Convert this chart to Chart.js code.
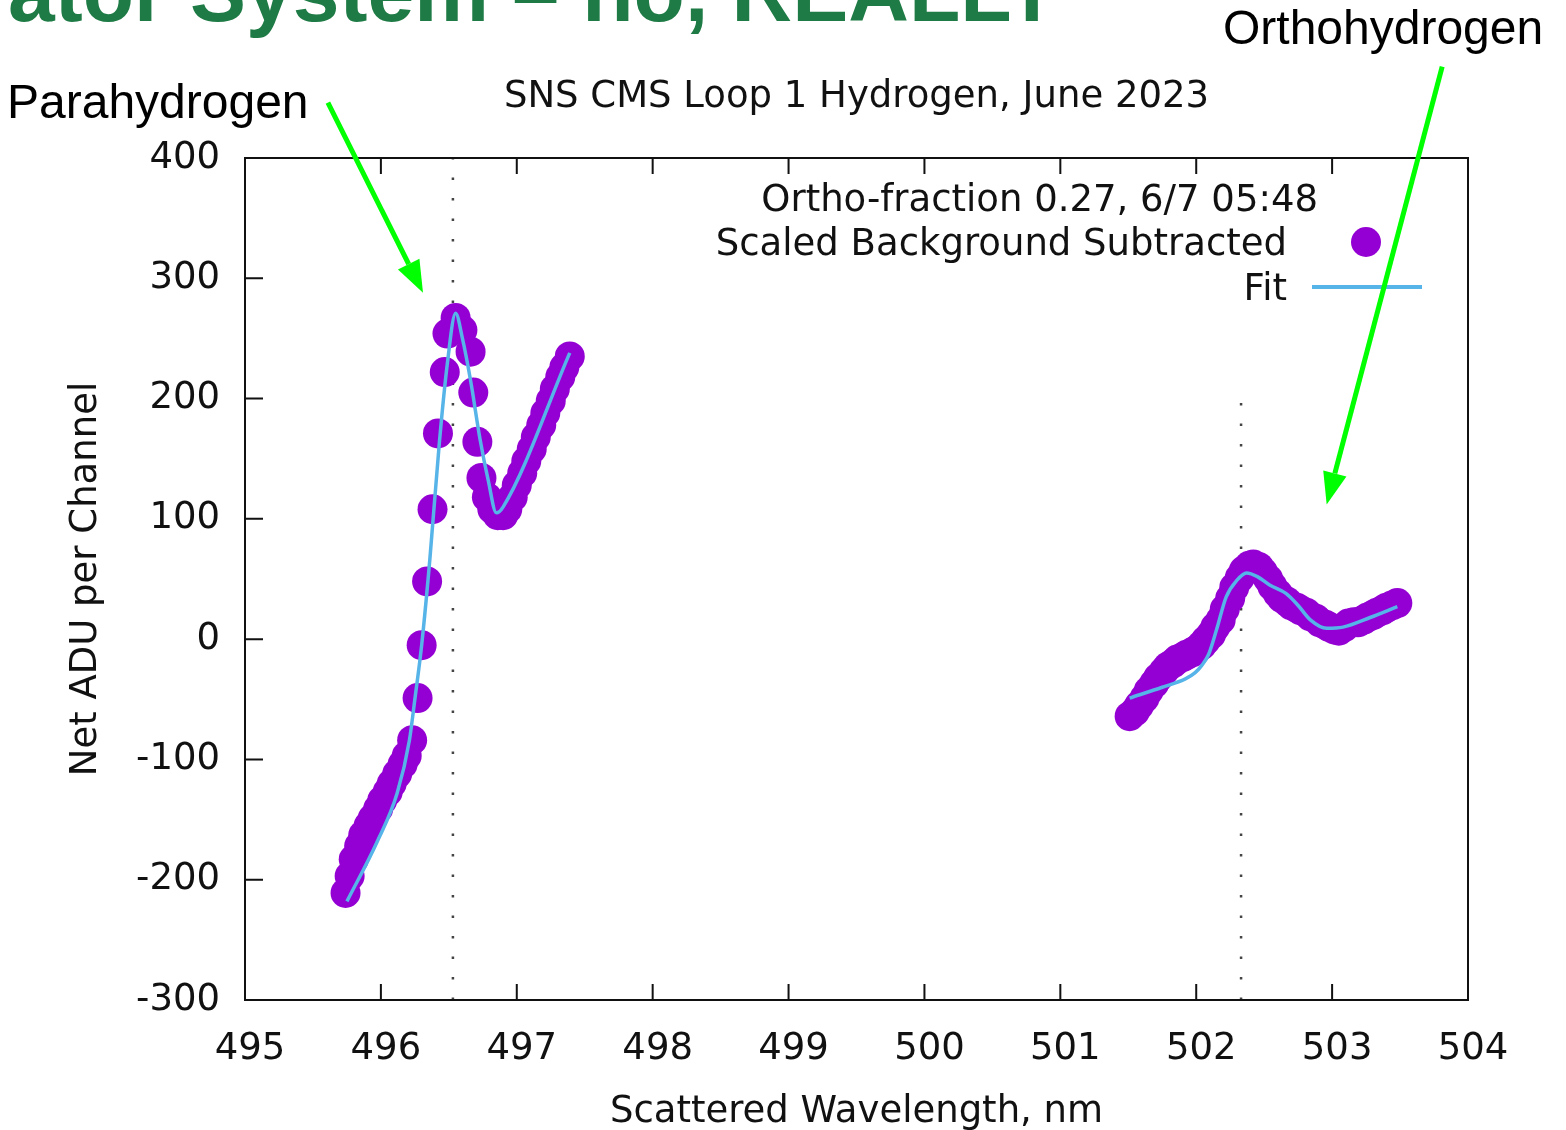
<!DOCTYPE html>
<html>
<head>
<meta charset="utf-8">
<script src="https://cdn.jsdelivr.net/npm/chart.js@4.4.0/dist/chart.umd.min.js"></script>
<style>
    body { margin: 0; background: #fff; }
    #wrap { position: relative; width: 1566px; height: 1130px; overflow: hidden; }
    .note { position: absolute; font-family: 'Liberation Sans', Arial, sans-serif; line-height: 1; white-space: nowrap; color: #000; }
    #slideTitle { left: 8px; top: -50px; font-size: 84px; font-weight: bold; color: #1e7b45; }
    #paraLabel { left: 7px; top: 78px; font-size: 48px; }
    #orthoLabel { left: 1223px; top: 4px; font-size: 48px; }
</style>
</head>
<body>
<div id="wrap">
    <canvas id="spectrumChart"></canvas>
    <div class="note" id="slideTitle">ator System – no, REALLY</div>
    <div class="note" id="paraLabel">Parahydrogen</div>
    <div class="note" id="orthoLabel">Orthohydrogen</div>
</div>
<script>
// measured points (nm, ADU)
const paraX = [495.74, 495.77, 495.80, 495.84, 495.87, 495.91, 495.94, 495.98, 496.01, 496.05,
    496.08, 496.12, 496.16, 496.19, 496.23, 496.27, 496.30, 496.34, 496.38, 496.42,
    496.47, 496.49, 496.55, 496.60, 496.66, 496.68, 496.71, 496.74, 496.78, 496.82,
    496.86, 496.90, 496.93, 496.97, 497.00, 497.04, 497.07, 497.11, 497.14, 497.18,
    497.21, 497.25, 497.28, 497.32, 497.35, 497.39];
const paraY = [-211, -197, -183, -172, -163, -155, -149, -141, -134, -127,
    -120, -112, -104, -97, -84, -49, -5, 48, 108, 171,
    222, 254, 267, 257, 239, 205, 164, 134, 118, 108,
    103, 103, 108, 118, 128, 138, 148, 158, 168, 178,
    188, 198, 208, 218, 226, 235];

const orthoX = [501.51, 501.55, 501.58, 501.62, 501.65, 501.69, 501.72, 501.76, 501.79, 501.83,
    501.86, 501.90, 501.93, 501.97, 502.00, 502.04, 502.07, 502.11, 502.14, 502.18,
    502.21, 502.25, 502.28, 502.32, 502.35, 502.39, 502.42, 502.46, 502.49, 502.53,
    502.56, 502.60, 502.63, 502.67, 502.70, 502.74, 502.77, 502.81, 502.84, 502.88,
    502.91, 502.95, 502.98, 503.02, 503.05, 503.09, 503.12, 503.16, 503.19, 503.23,
    503.26, 503.30, 503.33, 503.37, 503.40, 503.44, 503.48];
const orthoY = [-64, -60, -55, -49, -43, -37, -32, -27, -23, -20,
    -17, -15, -13, -11, -9, -5, -1, 4, 10, 16,
    25, 34, 43, 51, 57, 61, 62, 60, 56, 50,
    44, 38, 34, 31, 28, 26, 24, 22, 19, 17,
    14, 12, 10, 8, 7, 10, 13, 14, 14, 16,
    18, 20, 22, 24, 26, 28, 30];

// fit curves
const paraFitX = [495.75, 495.97, 496.12, 496.21, 496.25, 496.30, 496.36, 496.43, 496.49, 496.55,
    496.60, 496.66, 496.73, 496.79, 496.85, 496.90, 497.39];
const paraFitY = [-218, -169, -128, -84, -50, -5, 66, 163, 230, 271,
    250, 215, 166, 132, 105, 110, 238];
const orthoFitX = [501.51, 501.75, 501.92, 501.99, 502.04, 502.09, 502.15, 502.22, 502.30, 502.37,
    502.45, 502.54, 502.66, 502.75, 502.84, 502.96, 503.08, 503.28, 503.48];
const orthoFitY = [-49, -40, -33, -28, -22, -13, 8, 35, 49, 55,
    52, 45, 38, 28, 16, 9, 10, 18, 27];

// dotted line positions
const markerX = [496.53, 502.33];
const markerTop = [400, 211];

const xTicks = [495, 496, 497, 498, 499, 500, 501, 502, 503, 504];
const yTicks = [-300, -200, -100, 0, 100, 200, 300, 400];

// arrows [fromX, fromY, toX, toY] in data units
const arrows = [
    [495.61, 446, 496.31, 288],
    [503.81, 476, 502.96, 112]
];

const FONT = "'DejaVu Sans', 'Noto Sans', sans-serif";
const INK = '#111';

document.addEventListener('DOMContentLoaded', () => {
    drawChart();
});

function zip(xs, ys) {
    return xs.map((x, i) => ({ x: x, y: ys[i] }));
}

const frameTicks = {
    id: 'frameTicks',
    afterDatasetsDraw(chart) {
        const { ctx, chartArea: a, scales } = chart;
        ctx.save();
        ctx.strokeStyle = INK;
        ctx.lineWidth = 2;
        ctx.beginPath();
        xTicks.forEach(v => {
            const px = scales.x.getPixelForValue(v);
            ctx.moveTo(px, a.bottom); ctx.lineTo(px, a.bottom - 16);
            ctx.moveTo(px, a.top); ctx.lineTo(px, a.top + 16);
        });
        yTicks.forEach(v => {
            const py = scales.y.getPixelForValue(v);
            ctx.moveTo(a.left, py); ctx.lineTo(a.left + 18, py);
        });
        ctx.stroke();
        ctx.strokeRect(a.left, a.top, a.right - a.left, a.bottom - a.top);
        ctx.restore();
    }
};

const keyBox = {
    id: 'keyBox',
    afterDatasetsDraw(chart) {
        const { ctx, chartArea: a } = chart;
        ctx.save();
        ctx.font = '37px ' + FONT;
        ctx.fillStyle = INK;
        ctx.textAlign = 'right';
        ctx.textBaseline = 'middle';
        ctx.fillText('Ortho-fraction 0.27, 6/7 05:48', a.right - 150, a.top + 43);
        ctx.fillText('Scaled Background Subtracted', a.right - 181, a.top + 87);
        ctx.fillText('Fit', a.right - 181, a.top + 132);
        ctx.fillStyle = '#9400d3';
        ctx.beginPath();
        ctx.arc(a.right - 102, a.top + 84, 15, 0, Math.PI * 2);
        ctx.fill();
        ctx.strokeStyle = '#56b4e9';
        ctx.lineWidth = 4;
        ctx.beginPath();
        ctx.moveTo(a.right - 156, a.top + 129);
        ctx.lineTo(a.right - 46, a.top + 129);
        ctx.stroke();
        ctx.restore();
    }
};

const arrowLayer = {
    id: 'arrowLayer',
    afterDraw(chart) {
        const { ctx, scales } = chart;
        ctx.save();
        ctx.strokeStyle = '#00ff00';
        ctx.fillStyle = '#00ff00';
        ctx.lineWidth = 5;
        arrows.forEach(([x0, y0, x1, y1]) => {
            const sx = scales.x.getPixelForValue(x0), sy = scales.y.getPixelForValue(y0);
            const ex = scales.x.getPixelForValue(x1), ey = scales.y.getPixelForValue(y1);
            const ang = Math.atan2(ey - sy, ex - sx);
            const head = 32, half = 12;
            const bx = ex - head * Math.cos(ang), by = ey - head * Math.sin(ang);
            ctx.beginPath();
            ctx.moveTo(sx, sy);
            ctx.lineTo(bx, by);
            ctx.stroke();
            ctx.beginPath();
            ctx.moveTo(ex, ey);
            ctx.lineTo(bx + half * Math.sin(ang), by - half * Math.cos(ang));
            ctx.lineTo(bx - half * Math.sin(ang), by + half * Math.cos(ang));
            ctx.closePath();
            ctx.fill();
        });
        ctx.restore();
    }
};

function drawChart() {
    const ctx = document.getElementById('spectrumChart').getContext('2d');

    const fitStyle = {
        type: 'line',
        borderColor: '#56b4e9',
        borderWidth: 3.5,
        pointRadius: 0,
        fill: false,
        cubicInterpolationMode: 'monotone',
        order: 0
    };
    const pointStyle = {
        type: 'scatter',
        backgroundColor: '#9400d3',
        borderWidth: 0,
        pointRadius: 15,
        pointHoverRadius: 15,
        order: 1
    };
    const dotStyle = {
        type: 'line',
        borderColor: '#444',
        borderWidth: 2.5,
        borderDash: [2.5, 18],
        pointRadius: 0,
        fill: false,
        order: 2
    };

    new Chart(ctx, {
        data: {
            datasets: [
                Object.assign({ label: 'Fit', data: zip(paraFitX, paraFitY) }, fitStyle),
                Object.assign({ label: 'Fit ortho', data: zip(orthoFitX, orthoFitY) }, fitStyle),
                Object.assign({ label: 'Scaled Background Subtracted', data: zip(paraX, paraY) }, pointStyle),
                Object.assign({ label: 'ortho points', data: zip(orthoX, orthoY) }, pointStyle),
                Object.assign({ label: 'para line', data: [{ x: markerX[0], y: -300 }, { x: markerX[0], y: markerTop[0] }] }, dotStyle),
                Object.assign({ label: 'ortho line', data: [{ x: markerX[1], y: -300 }, { x: markerX[1], y: markerTop[1] }] }, dotStyle)
            ]
        },
        options: {
            responsive: true,
            maintainAspectRatio: false,
            animation: false,
            events: [],
            layout: { padding: { left: 0, right: 98, top: 0, bottom: 0 } },
            plugins: {
                legend: { display: false },
                tooltip: { enabled: false },
                title: {
                    display: true,
                    fullSize: false,
                    text: 'SNS CMS Loop 1 Hydrogen, June 2023',
                    color: INK,
                    font: { family: FONT, size: 37, weight: 'normal', lineHeight: 1.2 },
                    padding: { top: 75, bottom: 38.6 }
                }
            },
            scales: {
                x: {
                    type: 'linear',
                    min: 495,
                    max: 504,
                    afterFit: s => { s.height = 130; },
                    afterBuildTicks: s => { s.ticks = xTicks.map(v => ({ value: v })); },
                    grid: { display: false, drawTicks: false },
                    border: { display: false },
                    ticks: {
                        color: INK,
                        padding: 27,
                        labelOffset: 5,
                        maxRotation: 0,
                        font: { family: FONT, size: 37, lineHeight: 1.2 }
                    },
                    title: {
                        display: true,
                        text: 'Scattered Wavelength, nm',
                        color: INK,
                        font: { family: FONT, size: 37, lineHeight: 0.97 },
                        padding: { top: 0, bottom: 0 }
                    }
                },
                y: {
                    type: 'linear',
                    min: -300,
                    max: 400,
                    afterFit: s => { s.width = 245; },
                    afterBuildTicks: s => { s.ticks = yTicks.map(v => ({ value: v })); },
                    grid: { display: false, drawTicks: false },
                    border: { display: false },
                    ticks: {
                        color: INK,
                        padding: 25,
                        font: { family: FONT, size: 37, lineHeight: 1.2 }
                    },
                    title: {
                        display: true,
                        text: 'Net ADU per Channel',
                        color: INK,
                        font: { family: FONT, size: 37, lineHeight: 1.2 },
                        padding: { top: 64, bottom: 0 }
                    }
                }
            }
        },
        plugins: [frameTicks, keyBox, arrowLayer]
    });
}
</script>
</body>
</html>
